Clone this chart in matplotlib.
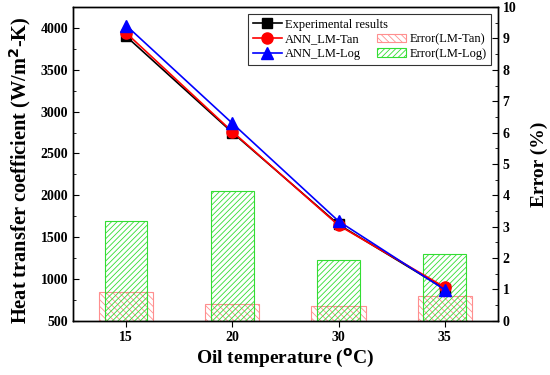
import matplotlib
matplotlib.use('Agg')
import matplotlib.pyplot as plt
from matplotlib.lines import Line2D
from matplotlib.ticker import MultipleLocator

plt.rcParams['font.family'] = ['Liberation Serif', 'DejaVu Serif']
plt.rcParams['hatch.linewidth'] = 0.6

temps = ['15', '20', '30', '35']
experimental = [3900, 2750, 1650, 880]
lm_tan = [3940, 2760, 1640, 900]
lm_log = [4030, 2860, 1690, 870]
err_tan = [0.92, 0.54, 0.48, 0.80]
err_log = [3.18, 4.14, 1.94, 2.14]

x = list(range(len(temps)))

fig = plt.figure(figsize=(5.5, 3.75), dpi=100)
ax = fig.add_axes([0.133, 0.145, 0.772, 0.836])
ax2 = ax.twinx()

# error bars on the right axis, drawn behind the lines
red_c = '#ff8f8f'
green_c = '#33dd33'
b1 = ax2.bar(x, err_tan, width=0.51, facecolor='none', edgecolor=red_c,
             hatch='\\\\\\\\\\', linewidth=0.8, label='Error(LM-Tan)')
b2 = ax2.bar(x, err_log, width=0.40, facecolor='none', edgecolor=green_c,
             hatch='//////', linewidth=0.8, label='Error(LM-Log)')
ax2.set_ylim(0, 10)
ax2.yaxis.set_major_locator(MultipleLocator(1))
ax2.yaxis.set_minor_locator(MultipleLocator(0.5))
ax2.set_ylabel('Error (%)', fontsize=14, fontweight='bold', labelpad=10)

ax.set_zorder(ax2.get_zorder() + 1)
ax.patch.set_visible(False)

l1, = ax.plot(x, experimental, '-s', color='black', markersize=7, lw=1.2,
              label='Experimental results')
l2, = ax.plot(x, lm_tan, '-o', color='red', markersize=8, lw=1.2,
              label='ANN_LM-Tan')
l3, = ax.plot(x, lm_log, '-^', color='blue', markersize=8, lw=1.2,
              label='ANN_LM-Log')

ax.set_xlim(-0.5, 3.5)
ax.set_ylim(500, 4250)
ax.set_xticks(x)
ax.set_xticklabels(temps)
ax.yaxis.set_major_locator(MultipleLocator(500))
ax.yaxis.set_minor_locator(MultipleLocator(250))
ax.set_xlabel('Oil temperature ($\\mathbf{^{o}}$C)', fontsize=14, fontweight='bold',
              labelpad=2)
ax.set_ylabel('Heat transfer coefficient (W/m$\\mathbf{^{2}}$-K)', fontsize=14.7,
              fontweight='bold')
ax.yaxis.set_label_coords(-0.095, 0.48)

for a in (ax, ax2):
    for lab in a.get_yticklabels() + a.get_xticklabels():
        lab.set_fontweight('bold')
        lab.set_fontsize(10)
    for s in a.spines.values():
        s.set_linewidth(1.0)
ax.tick_params(axis='y', which='both', direction='in')
ax.tick_params(axis='y', which='major', length=4)
ax.tick_params(axis='y', which='minor', length=2.5)
ax.tick_params(axis='x', direction='out', length=4)
ax2.tick_params(axis='y', which='both', direction='in')
ax2.tick_params(axis='y', which='major', length=4)
ax2.tick_params(axis='y', which='minor', length=2.5)

blank = Line2D([], [], alpha=0)
handles = [l1, l2, l3, blank, b1, b2]
labels = ['Experimental results', 'ANN_LM-Tan', 'ANN_LM-Log', '',
          'Error(LM-Tan)', 'Error(LM-Log)']
leg = ax.legend(handles, labels, ncol=2, loc='upper right',
                bbox_to_anchor=(0.99, 0.985), fontsize=9, frameon=True,
                fancybox=False, edgecolor='black', handlelength=2.3,
                labelspacing=0.22, columnspacing=-0.9, borderpad=0.35,
                handletextpad=0.3, borderaxespad=0.2)
leg.get_frame().set_linewidth(0.8)

fig.savefig('out.png', dpi=100)
